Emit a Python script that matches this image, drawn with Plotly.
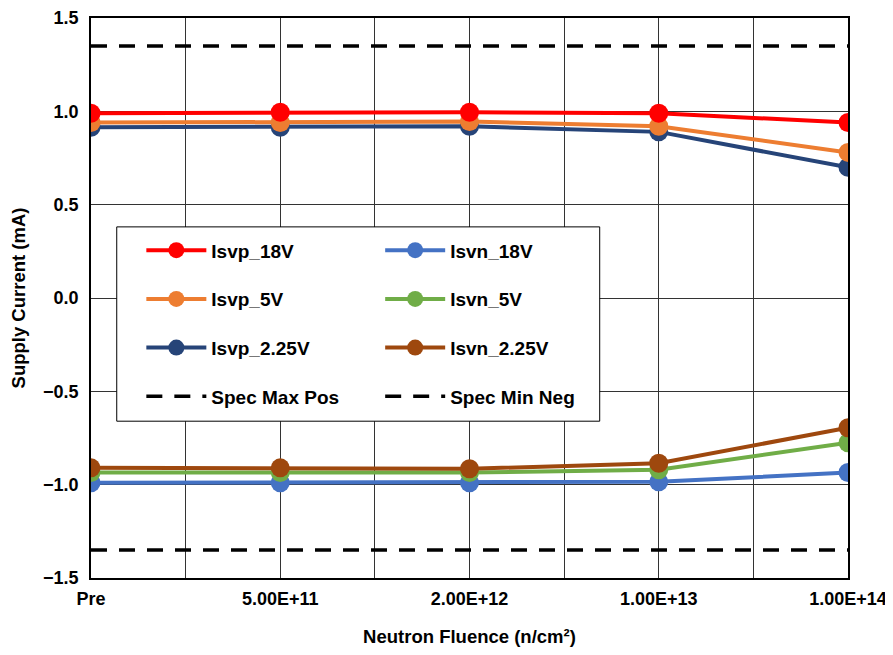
import plotly.graph_objects as go

categories = ["Pre", "5.00E+11", "2.00E+12", "1.00E+13", "1.00E+14"]
isvp_18v = [0.99, 0.995, 0.995, 0.99, 0.94]
isvp_5v = [0.94, 0.94, 0.945, 0.92, 0.78]
isvp_225v = [0.915, 0.915, 0.92, 0.89, 0.70]
isvn_18v = [-0.99, -0.99, -0.99, -0.985, -0.935]
isvn_5v = [-0.935, -0.935, -0.935, -0.92, -0.775]
isvn_225v = [-0.91, -0.91, -0.915, -0.885, -0.695]
spec_max_pos = [1.35] * len(categories)
spec_min_neg = [-1.35] * len(categories)

xs = list(range(len(categories)))

fig = go.Figure()

def add_series(name, y, color, legend, group, rank):
    fig.add_trace(go.Scatter(
        x=xs, y=y, name=name, mode="lines+markers",
        line=dict(color=color, width=4),
        marker=dict(color=color, size=19),
        legend=legend, legendgroup=group, legendrank=rank))

# spec lines first (behind data)
fig.add_trace(go.Scatter(x=xs, y=spec_max_pos, name="Spec Max Pos", mode="lines",
                         line=dict(color="black", width=3.5, dash="16px,12px"),
                         legend="legend", legendgroup="g4", legendrank=4))
fig.add_trace(go.Scatter(x=xs, y=spec_min_neg, name="Spec Min Neg", mode="lines",
                         line=dict(color="black", width=3.5, dash="16px,12px"),
                         legend="legend2", legendgroup="h4", legendrank=4))

add_series("Isvn_18V", isvn_18v, "#4472C4", "legend2", "h1", 1)
add_series("Isvn_5V", isvn_5v, "#70AD47", "legend2", "h2", 2)
add_series("Isvn_2.25V", isvn_225v, "#9E480E", "legend2", "h3", 3)
add_series("Isvp_2.25V", isvp_225v, "#264478", "legend", "g3", 3)
add_series("Isvp_5V", isvp_5v, "#ED7D31", "legend", "g2", 2)
add_series("Isvp_18V", isvp_18v, "#FF0000", "legend", "g1", 1)

font = "Liberation Sans, Arial, sans-serif"
legend_common = dict(
    font=dict(family=font, size=19, color="black", weight="bold"),
    bgcolor="rgba(0,0,0,0)", borderwidth=0,
    tracegroupgap=21, itemwidth=60,
    xanchor="left", yanchor="top", orientation="v",
    traceorder="grouped",
)

tickfont = dict(family=font, size=18, color="black", weight="bold")
titlefont = dict(family=font, size=18.5, color="black", weight="bold")

fig.update_layout(
    width=885, height=648,
    margin=dict(l=83, r=45, t=10, b=78),
    plot_bgcolor="white", paper_bgcolor="white",
    font=dict(family=font, color="black"),
    showlegend=True,
    legend=dict(x=0.0665, y=0.619, **legend_common),
    legend2=dict(x=0.382, y=0.619, **legend_common),
    xaxis=dict(
        range=[0, 4], tickmode="array", tickvals=xs, ticktext=categories,
        showgrid=True, gridcolor="#333333", gridwidth=1,
        minor=dict(tickmode="array", tickvals=[0.5, 1.5, 2.5, 3.5],
                   showgrid=True, gridcolor="#333333", gridwidth=1),
        showline=True, linecolor="black", linewidth=1.5, mirror=True,
        zeroline=False, ticks="", ticklabelstandoff=4, automargin=False,
        ticklabeloverflow="allow",
        tickfont=tickfont,
        title=dict(text="Neutron Fluence (n/cm²)", standoff=22, font=titlefont),
    ),
    yaxis=dict(
        range=[-1.5, 1.5], tickmode="linear", tick0=-1.5, dtick=0.5,
        tickformat=".1f",
        showgrid=True, gridcolor="#333333", gridwidth=1,
        showline=True, linecolor="black", linewidth=1.5, mirror=True,
        zeroline=False, ticks="", ticklabelstandoff=7, automargin=False,
        ticklabeloverflow="allow",
        tickfont=tickfont,
        title=dict(text="Supply Current (mA)", standoff=19, font=titlefont),
    ),
    shapes=[dict(type="rect", xref="paper", yref="paper",
                 x0=0.034, x1=0.672, y0=0.280, y1=0.627,
                 fillcolor="white", line=dict(color="black", width=1),
                 layer="above")],
)

fig.write_html("out.html")
